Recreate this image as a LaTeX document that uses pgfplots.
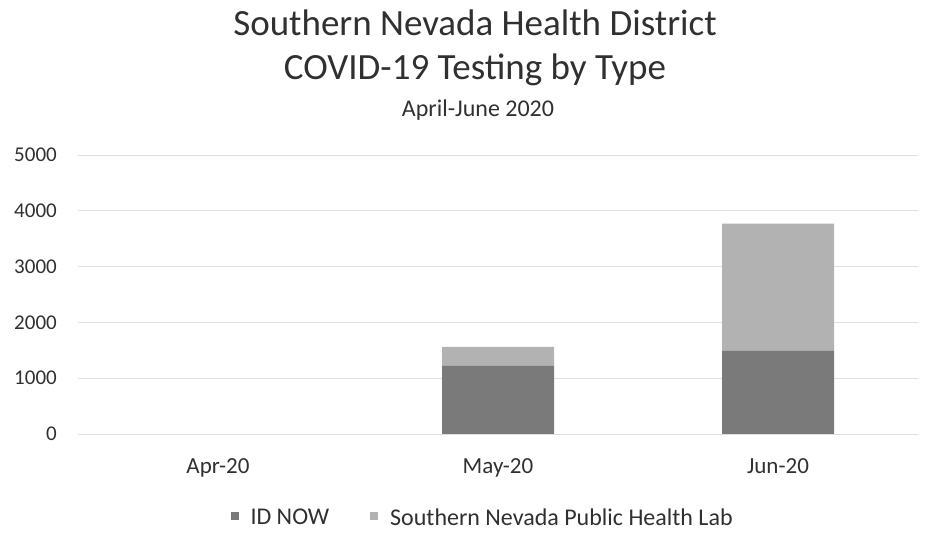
\documentclass[border=0pt]{standalone}
\usepackage{pgfplots}
\pgfplotsset{compat=1.18}
\usepackage{fontspec}
\setmainfont{Carlito}
\definecolor{idnow}{HTML}{7A7A7A}
\definecolor{snphl}{HTML}{B2B2B2}
\definecolor{txt}{HTML}{303030}
\begin{document}
\begin{tikzpicture}
\path[use as bounding box] (0,0) rectangle (945pt,534pt);
\begin{axis}[
  at={(78pt,100pt)}, anchor=south west,
  scale only axis, width=840pt, height=279pt,
  ybar stacked, bar width=0.4,
  xmin=-0.5, xmax=2.5, ymin=0, ymax=5000,
  xtick={0,1,2}, xticklabels={Apr-20,May-20,Jun-20},
  ytick={0,1000,...,5000},
  axis line style={draw=none},
  major tick length=0pt,
  ymajorgrids, grid style={gray!25, line width=0.6pt},
  /pgf/number format/assume math mode=true,
  /pgf/number format/1000 sep={},
  yticklabel style={font=\fontsize{21}{25}\selectfont, text=txt, inner sep=0pt, xshift=-21pt},
  xticklabel style={font=\fontsize{23}{27}\selectfont, text=txt, inner sep=0pt, yshift=-24pt},
  legend columns=2,
  legend style={draw=none, at={(0.4805,-0.3)}, anchor=center,
    font=\fontsize{24}{28}\selectfont, text=txt,
    nodes={inner sep=0pt},
    /tikz/every odd column/.append style={column sep=12pt},
    /tikz/every even column/.append style={column sep=41pt}},
  legend image code/.code={\fill[#1] (0pt,-2.5pt) rectangle (8pt,5.5pt);},
]
\addplot+[fill=idnow, draw=none] coordinates {(0,0) (1,1220) (2,1490)};
\addlegendentry{ID NOW}
\addplot+[fill=snphl, draw=none] coordinates {(0,0) (1,340) (2,2280)};
\addlegendentry{Southern Nevada Public Health Lab}
\end{axis}
\node[anchor=base, text=txt, font=\fontsize{37}{44}\selectfont] at (475pt,498pt) {Southern Nevada Health District};
\node[anchor=base, text=txt, font=\fontsize{37}{44}\selectfont] at (475pt,454pt) {COVID-19 Testing by Type};
\node[anchor=base, text=txt, font=\fontsize{24}{28}\selectfont] at (478pt,417pt) {April-June 2020};
\end{tikzpicture}
\end{document}
